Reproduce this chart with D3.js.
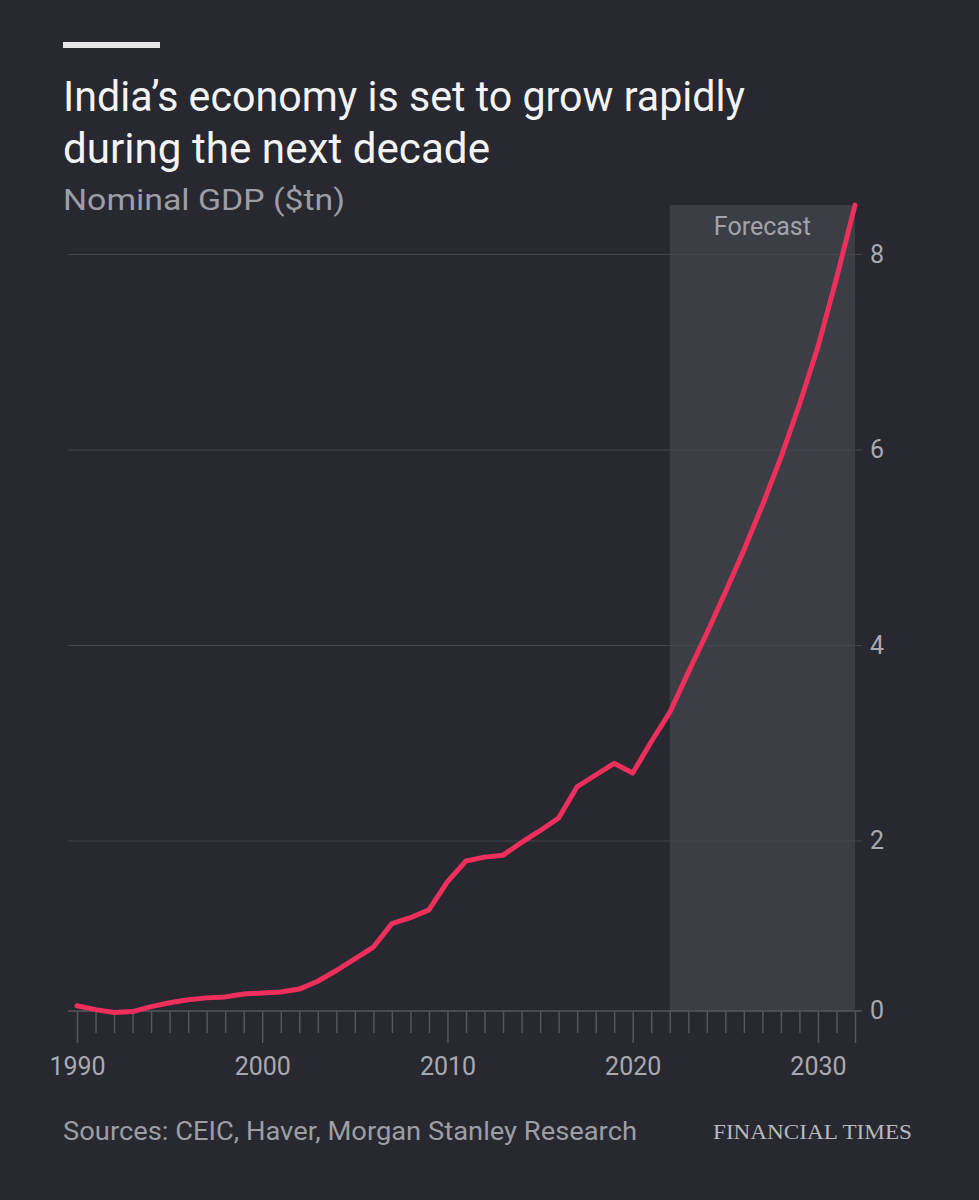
<!DOCTYPE html>
<html>
<head>
<meta charset="utf-8">
<script src="https://cdn.jsdelivr.net/npm/d3@7"></script>
<style>
  body { margin: 0; background: #272830; }
  svg { display: block; }
  text { font-family: Roboto, "Open Sans", sans-serif; }
</style>
</head>
<body>
<div id="chart"></div>
<script>
// data
var years = [1990, 1991, 1992, 1993, 1994, 1995, 1996, 1997, 1998, 1999,
             2000, 2001, 2002, 2003, 2004, 2005, 2006, 2007, 2008, 2009,
             2010, 2011, 2012, 2013, 2014, 2015, 2016, 2017, 2018, 2019,
             2020, 2021, 2022, 2023, 2024, 2025, 2026, 2027, 2028, 2029,
             2030, 2031, 2032];
var gdp = [0.31, 0.27, 0.24, 0.25, 0.30, 0.34, 0.37, 0.39, 0.40, 0.43,
           0.44, 0.45, 0.48, 0.56, 0.67, 0.79, 0.91, 1.15, 1.21, 1.29,
           1.58, 1.79, 1.83, 1.85, 1.98, 2.10, 2.23, 2.55, 2.67, 2.79,
           2.69, 3.01, 3.31, 3.72, 4.12, 4.54, 4.97, 5.43, 5.92, 6.46,
           7.05, 7.75, 8.50];
var forecastStart = 2022;
var yTicks = [2, 4, 6, 8];
var xLabels = [1990, 2000, 2010, 2020, 2030];

var svgWidth = 979;
var svgHeight = 1200;

var margin = { top: 205, right: 124, bottom: 189, left: 77 };
var width = svgWidth - margin.left - margin.right;
var height = svgHeight - margin.top - margin.bottom;

var svg = d3.select("#chart")
  .append("svg")
  .attr("width", svgWidth)
  .attr("height", svgHeight);

svg.append("rect")
  .attr("width", svgWidth)
  .attr("height", svgHeight)
  .attr("fill", "#272830");

// header
svg.append("rect")
  .attr("x", 63).attr("y", 42)
  .attr("width", 97).attr("height", 6)
  .attr("fill", "#e6e6e8");

svg.append("text")
  .attr("x", 63).attr("y", 111)
  .attr("fill", "#f3f3f4")
  .attr("font-size", 42)
  .attr("textLength", 682)
  .attr("lengthAdjust", "spacingAndGlyphs")
  .text("India’s economy is set to grow rapidly");

svg.append("text")
  .attr("x", 63).attr("y", 163)
  .attr("fill", "#f3f3f4")
  .attr("font-size", 42)
  .attr("textLength", 427)
  .attr("lengthAdjust", "spacingAndGlyphs")
  .text("during the next decade");

svg.append("text")
  .attr("x", 63).attr("y", 210)
  .attr("fill", "#9d9ea4")
  .attr("font-size", 30)
  .attr("textLength", 282)
  .attr("lengthAdjust", "spacingAndGlyphs")
  .text("Nominal GDP ($tn)");

var chartGroup = svg.append("g")
  .attr("transform", `translate(${margin.left}, ${margin.top})`);

// scales
var xScale = d3.scaleLinear()
  .domain([1990, 2032])
  .range([0, width]);

// the picture's zero line sits above the true zero of the 2-8 grid
var yScale = d3.scaleLinear()
  .domain([0, 8])
  .range([831, 49]);

// forecast shading
chartGroup.append("rect")
  .attr("x", xScale(forecastStart))
  .attr("y", 0)
  .attr("width", xScale(2032) - xScale(forecastStart))
  .attr("height", height)
  .attr("fill", "#3c3e46");

chartGroup.append("text")
  .attr("x", (xScale(forecastStart) + xScale(2032)) / 2)
  .attr("y", 30)
  .attr("text-anchor", "middle")
  .attr("fill", "#a3a4aa")
  .attr("font-size", 25)
  .text("Forecast");

// gridlines + right labels
var rightAxis = d3.axisRight(yScale)
  .tickValues(yTicks)
  .tickSize(width + 16)
  .tickPadding(8)
  .tickFormat(d3.format("d"));

var yAxisG = chartGroup.append("g")
  .attr("transform", "translate(-9, 0)")
  .call(rightAxis);
yAxisG.select(".domain").remove();
yAxisG.selectAll("line").attr("stroke", "#45464e").attr("stroke-width", 1.2);
yAxisG.selectAll("text")
  .attr("fill", "#a9aab0")
  .attr("font-size", 25)
  .attr("font-family", "Roboto, sans-serif");

// baseline labelled 0
chartGroup.append("line")
  .attr("x1", -9).attr("x2", width + 7)
  .attr("y1", height).attr("y2", height)
  .attr("stroke", "#56575e")
  .attr("stroke-width", 1.5);

chartGroup.append("text")
  .attr("x", width + 15)
  .attr("y", height)
  .attr("dy", "0.32em")
  .attr("fill", "#a9aab0")
  .attr("font-size", 25)
  .text("0");

// x ticks
var minorAxis = d3.axisBottom(xScale)
  .tickValues(years.filter(d => d % 10 != 0 && d != 2032))
  .tickSize(22)
  .tickFormat("");

var minorG = chartGroup.append("g")
  .attr("transform", `translate(0, ${height})`)
  .call(minorAxis);
minorG.select(".domain").remove();
minorG.selectAll("line").attr("stroke", "#56575e").attr("stroke-width", 1.5);

var majorAxis = d3.axisBottom(xScale)
  .tickValues(xLabels.concat([2032]))
  .tickSize(32)
  .tickPadding(14)
  .tickFormat(d => d == 2032 ? "" : d);

var majorG = chartGroup.append("g")
  .attr("transform", `translate(0, ${height})`)
  .call(majorAxis);
majorG.select(".domain").remove();
majorG.selectAll("line").attr("stroke", "#56575e").attr("stroke-width", 1.5);
majorG.selectAll("text")
  .attr("fill", "#a9aab0")
  .attr("font-size", 25)
  .attr("font-family", "Roboto, sans-serif");

// line
var points = years.map((d, i) => ({ year: d, value: gdp[i] }));

var line = d3.line()
  .x(d => xScale(d.year))
  .y(d => yScale(d.value));

chartGroup.append("path")
  .datum(points)
  .attr("fill", "none")
  .attr("stroke", "#ee2f5c")
  .attr("stroke-width", 5)
  .attr("stroke-linejoin", "round")
  .attr("stroke-linecap", "round")
  .attr("d", line);

// footer
svg.append("text")
  .attr("x", 63).attr("y", 1140)
  .attr("fill", "#9d9ea4")
  .attr("font-size", 26)
  .attr("textLength", 574)
  .attr("lengthAdjust", "spacingAndGlyphs")
  .text("Sources: CEIC, Haver, Morgan Stanley Research");

svg.append("text")
  .attr("x", 713).attr("y", 1139)
  .attr("fill", "#b9b9bd")
  .attr("font-size", 22)
  .style("font-family", "'Liberation Serif', 'DejaVu Serif', serif")
  .attr("textLength", 199)
  .attr("lengthAdjust", "spacingAndGlyphs")
  .text("FINANCIAL TIMES");
</script>
</body>
</html>
